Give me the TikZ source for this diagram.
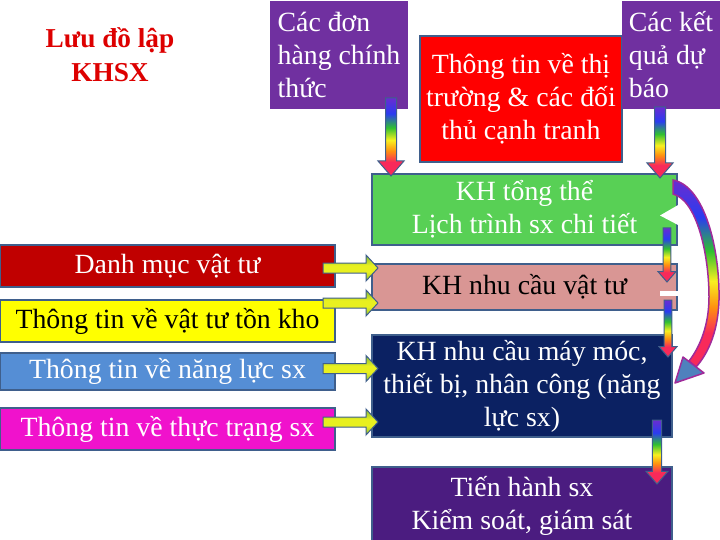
\documentclass[tikz,border=0pt]{standalone}
\usepackage{fontspec}
\setmainfont{Liberation Serif}
\usepackage{xcolor}
\usetikzlibrary{calc,positioning}

\definecolor{boxedge}{HTML}{3F5F8C}
\definecolor{titlered}{HTML}{DD0000}
\definecolor{orderpurple}{HTML}{7030A0}
\definecolor{marketred}{HTML}{FF0000}
\definecolor{plangreen}{HTML}{58D055}
\definecolor{needpink}{HTML}{D99694}
\definecolor{capnavy}{HTML}{0B2162}
\definecolor{runpurple}{HTML}{4B1C80}
\definecolor{listred}{HTML}{C00000}
\definecolor{stockyellow}{HTML}{FFFF00}
\definecolor{capblue}{HTML}{558ED5}
\definecolor{statemagenta}{HTML}{F012CC}
\definecolor{rbpurple}{HTML}{6A2CD0}
\definecolor{rbblue}{HTML}{2A3CF0}
\definecolor{rbgreen}{HTML}{30C030}
\definecolor{rbyellow}{HTML}{F8F020}
\definecolor{rborange}{HTML}{FF9010}
\definecolor{rbred}{HTML}{F82A5A}
\definecolor{limegreen}{HTML}{7DB83A}
\definecolor{limeyellow}{HTML}{E8F020}
\definecolor{curveedge}{HTML}{A02A9A}
\definecolor{headblue}{HTML}{4F81BD}

\pgfdeclareverticalshading{rainbowv}{100bp}{color(0bp)=(rbred); color(25bp)=(rbred);
  color(34bp)=(rbred); color(41bp)=(rborange); color(48bp)=(rbyellow); color(56bp)=(rbgreen);
  color(65bp)=(rbblue); color(75bp)=(rbpurple); color(100bp)=(rbpurple)}
\pgfdeclareverticalshading{limeband}{100bp}{color(0bp)=(limegreen); color(25bp)=(limegreen);
  color(42bp)=(limeyellow); color(55bp)=(limeyellow); color(75bp)=(limegreen); color(100bp)=(limegreen)}

\newcommand\rainbowdown[3][1]{%
  \path[shade,shading=rainbowv,draw=boxedge,line width=1pt]
    let \p1=(#2), \p2=(#3) in
    (\x1-5.5pt*#1,\y1) -- (\x1+5.5pt*#1,\y1) -- (\x1+5.5pt*#1,\y2+15pt*#1)
    -- (\x1+13pt*#1,\y2+15pt*#1) -- (\x1,\y2) -- (\x1-13pt*#1,\y2+15pt*#1)
    -- (\x1-5.5pt*#1,\y2+15pt*#1) -- cycle;}
\newcommand\limearrow[2]{%
  \path[shade,shading=limeband,draw=boxedge,line width=1pt]
    let \p1=(#1), \p2=(#2) in
    (\x1,\y1+5pt) -- (\x2-12pt,\y1+5pt) -- (\x2-12pt,\y1+13pt) -- (\x2,\y1)
    -- (\x2-12pt,\y1-13pt) -- (\x2-12pt,\y1-5pt) -- (\x1,\y1-5pt) -- cycle;}

\begin{document}
\begin{tikzpicture}[x=1pt,y=-1pt,
  every node/.style={inner sep=0pt,outer sep=0pt,font=\fontsize{27.8}{33}\selectfont},
  plan/.style={draw=boxedge,line width=1.5pt,align=center,text=white},
  order/.style={fill=orderpurple,text=white,align=left},
  inputbox/.style={plan,minimum width=335pt,minimum height=42pt}]
\useasboundingbox (0,0) rectangle (720,540);
\clip (0,0) rectangle (720,540);
\fill[white] (0,0) rectangle (720,540);

\node (T) [font=\fontsize{27.3}{34}\selectfont\bfseries,text=titlered,align=center] at (110,55) {Lưu đồ lập\\KHSX};
\node (B1) [order,minimum width=138pt,minimum height=108pt] at (339,55) {Các đơn\\hàng chính\\thức};
\node (R) [plan,fill=marketred,minimum width=202pt,minimum height=126pt] at (521,99) {Thông tin về thị\\trường \& các đối\\thủ cạnh tranh};
\node (B2) [order,minimum width=98pt,minimum height=108pt] at (671,55) {Các kết\\quả dự\\báo};
\node (G) [plan,fill=plangreen,minimum width=305pt,minimum height=71pt] at (524.5,209.5) {KH tổng thể\\Lịch trình sx chi tiết};
\node (P) [plan,fill=needpink,text=black,minimum width=305pt,minimum height=46pt] at (524.5,287) {KH nhu cầu vật tư};
\node (N) [plan,fill=capnavy,minimum width=300pt,minimum height=102pt] at (522,386) {KH nhu cầu máy móc,\\thiết bị, nhân công (năng\\lực sx)};
\node (S) [plan,fill=runpurple,minimum width=300pt,minimum height=78pt] at (522,506) {Tiến hành sx\\Kiểm soát, giám sát};

\node (L1) [inputbox,fill=listred] at (167.5,266) {Danh mục vật tư};
\node (L2) [inputbox,fill=stockyellow,text=black] at (167.5,321) {Thông tin về vật tư tồn kho};
\node (L3) [inputbox,fill=capblue,minimum height=37pt] at (167.5,371.5) {Thông tin về năng lực sx};
\node (L4) [inputbox,fill=statemagenta] at (167.5,429) {Thông tin về thực trạng sx};

\fill[white] ($(G.east)+(2,-5)$) -- ++(-19,11) -- ++(19,10) -- cycle;
\fill[white] ($(P.east)+(-17,4)$) rectangle ++(19,5);

\rainbowdown{$(B1.south east)+(-17,-11)$}{$(G.north)+(0,2)$}
\rainbowdown{$(B2.south)+(-11,-2)$}{$(G.north)+(0,4)$}
\rainbowdown[0.7]{$(G.south east)+(-10,-17)$}{$(P.north)+(0,18)$}
\rainbowdown[0.7]{$(P.south east)+(-9,-10)$}{$(N.north)+(0,22)$}
\rainbowdown[0.85]{$(N.south east)+(-15,-17)$}{$(S.north)+(0,17)$}

\limearrow{$(L1.east)+(-12,2)$}{$(P.west)+(6,0)$}
\limearrow{$(L2.north east)+(-12,3)$}{$(P.west)+(6,0)$}
\limearrow{$(L3.east)+(-12,-3)$}{$(N.west)+(6,0)$}
\limearrow{$(L4.east)+(-12,-7)$}{$(N.west)+(6,0)$}

\coordinate (CS) at ($(G.north east)+(-4,6)$);
\coordinate (CE) at ($(N.east)+(3,-3)$);
\path[shade,shading=rainbowv,draw=curveedge,line width=1.5pt]
  (CS) .. controls (705,186) and (720,250) .. (719,300)
  .. controls (718,335) and (706,356) .. (696,367)
  -- (689,361) .. controls (700,347) and (709,325) .. (709,297)
  .. controls (709,255) and (697,200) .. (673,194) -- cycle;
\draw[fill=headblue,draw=curveedge,line width=1.5pt,line join=round]
  (CE) -- (683,357) -- (704,373) -- cycle;
\end{tikzpicture}
\end{document}
